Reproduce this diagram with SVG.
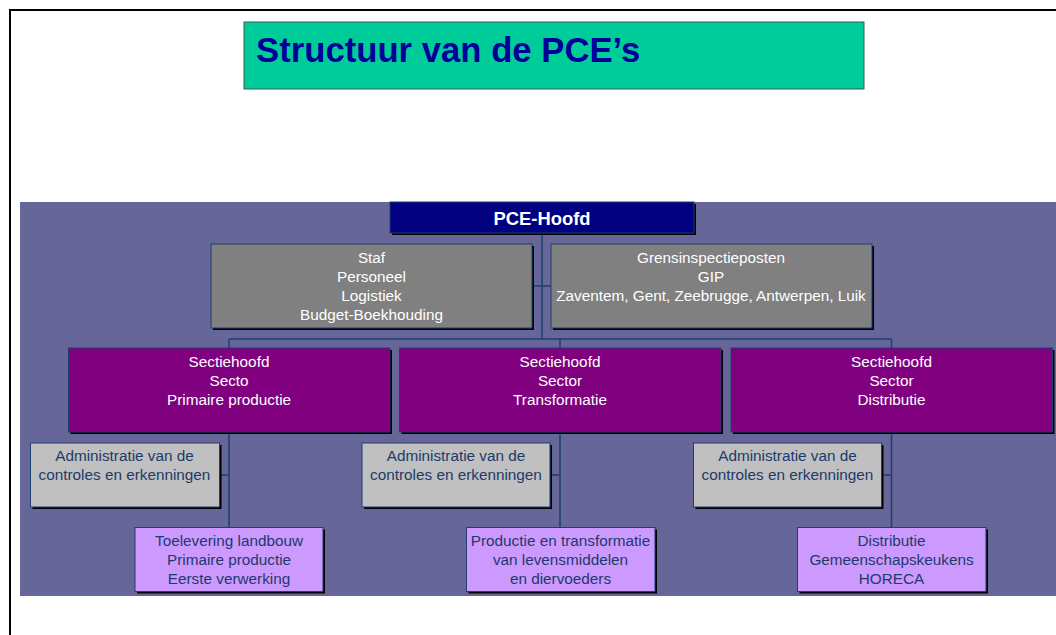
<svg xmlns="http://www.w3.org/2000/svg" width="1056" height="635" viewBox="0 0 1056 635">
<style>
.t{font-family:"Liberation Sans",Arial,sans-serif;font-size:15.3px;text-anchor:middle}
.w{fill:#FFFFFF}
.d{fill:#1C3A6B}
.sh{fill:#000000}
.bx{stroke:#1F3F6F;stroke-width:1}
.ln{stroke:#1F3F6F;stroke-width:1.5;fill:none}
</style>
<rect x="0" y="0" width="1056" height="635" fill="#FFFFFF"/>
<rect x="10" y="10" width="1070" height="640" fill="none" stroke="#000000" stroke-width="2"/>
<g id="title">
<rect x="244" y="22" width="620" height="67" fill="#00CC99" stroke="#2F5F4F" stroke-width="1"/>
<text x="256" y="62" font-family="'Liberation Sans',Arial,sans-serif" font-size="34.7" font-weight="bold" fill="#000099">Structuur van de PCE’s</text>
</g>
<rect id="panel" x="20" y="202" width="1036" height="394" fill="#666699"/>
<g id="connectors">
<path class="ln" d="M542 233V339M531 286H551M229 339H892M229 339V348M560 339V348M891.5 339V348"/>
<path class="ln" d="M229 432V527M219 475H229M560 432V527M550 475H560M891.5 432V527M881.5 475H891.5"/>
</g>
<g id="hoofd">
<rect class="sh" x="392" y="204" width="304" height="31"/>
<rect x="390" y="202" width="304" height="31" fill="#000080" stroke="#1F3F6F"/>
<text class="t w" x="542" y="224.5" style="font-size:18.4px;font-weight:bold">PCE-Hoofd</text>
</g>
<g id="staf">
<rect class="sh" x="213" y="246" width="321" height="84"/>
<rect class="bx" x="211" y="244" width="321" height="84" fill="#808080"/>
<text class="t w"><tspan x="371.5" y="263">Staf</tspan><tspan x="371.5" y="282">Personeel</tspan><tspan x="371.5" y="300.5">Logistiek</tspan><tspan x="371.5" y="319.5">Budget-Boekhouding</tspan></text>
</g>
<g id="gip">
<rect class="sh" x="553" y="246" width="321" height="84"/>
<rect class="bx" x="551" y="244" width="321" height="84" fill="#808080"/>
<text class="t w"><tspan x="711" y="263">Grensinspectieposten</tspan><tspan x="711" y="282">GIP</tspan><tspan x="711" y="300.5">Zaventem, Gent, Zeebrugge, Antwerpen, Luik</tspan></text>
</g>
<g id="sector1">
<rect class="sh" x="70.5" y="350" width="321.5" height="84"/>
<rect class="bx" x="68.5" y="348" width="321.5" height="84" fill="#800080"/>
<text class="t w"><tspan x="229" y="367">Sectiehoofd</tspan><tspan x="229" y="386">Secto</tspan><tspan x="229" y="404.5">Primaire productie</tspan></text>
</g>
<g id="sector2">
<rect class="sh" x="401.5" y="350" width="321.5" height="84"/>
<rect class="bx" x="399.5" y="348" width="321.5" height="84" fill="#800080"/>
<text class="t w"><tspan x="560" y="367">Sectiehoofd</tspan><tspan x="560" y="386">Sector</tspan><tspan x="560" y="404.5">Transformatie</tspan></text>
</g>
<g id="sector3">
<rect class="sh" x="733" y="350" width="321.5" height="84"/>
<rect class="bx" x="731" y="348" width="321.5" height="84" fill="#800080"/>
<text class="t w"><tspan x="891.5" y="367">Sectiehoofd</tspan><tspan x="891.5" y="386">Sector</tspan><tspan x="891.5" y="404.5">Distributie</tspan></text>
</g>
<g id="admin1">
<rect class="sh" x="32.5" y="445" width="189" height="64"/>
<rect class="bx" x="30.5" y="443" width="189" height="64" fill="#C0C0C0"/>
<text class="t d"><tspan x="124.5" y="461">Administratie van de</tspan><tspan x="124.5" y="480">controles en erkenningen</tspan></text>
</g>
<g id="admin2">
<rect class="sh" x="364" y="445" width="188" height="64"/>
<rect class="bx" x="362" y="443" width="188" height="64" fill="#C0C0C0"/>
<text class="t d"><tspan x="456" y="461">Administratie van de</tspan><tspan x="456" y="480">controles en erkenningen</tspan></text>
</g>
<g id="admin3">
<rect class="sh" x="695.5" y="445" width="188" height="64"/>
<rect class="bx" x="693.5" y="443" width="188" height="64" fill="#C0C0C0"/>
<text class="t d"><tspan x="787.5" y="461">Administratie van de</tspan><tspan x="787.5" y="480">controles en erkenningen</tspan></text>
</g>
<g id="sub1">
<rect class="sh" x="137" y="529.5" width="188" height="64"/>
<rect class="bx" x="135" y="527.5" width="188" height="64" fill="#CC99FF"/>
<text class="t d"><tspan x="229" y="545.5">Toelevering landbouw</tspan><tspan x="229" y="564.5">Primaire productie</tspan><tspan x="229" y="583.5">Eerste verwerking</tspan></text>
</g>
<g id="sub2">
<rect class="sh" x="468.5" y="529.5" width="188.5" height="64"/>
<rect class="bx" x="466.5" y="527.5" width="188.5" height="64" fill="#CC99FF"/>
<text class="t d"><tspan x="560.5" y="545.5">Productie en transformatie</tspan><tspan x="560.5" y="564.5">van levensmiddelen</tspan><tspan x="560.5" y="583.5">en diervoeders</tspan></text>
</g>
<g id="sub3">
<rect class="sh" x="799.5" y="529.5" width="188.5" height="64"/>
<rect class="bx" x="797.5" y="527.5" width="188.5" height="64" fill="#CC99FF"/>
<text class="t d"><tspan x="891.5" y="545.5">Distributie</tspan><tspan x="891.5" y="564.5">Gemeenschapskeukens</tspan><tspan x="891.5" y="583.5">HORECA</tspan></text>
</g>
</svg>
